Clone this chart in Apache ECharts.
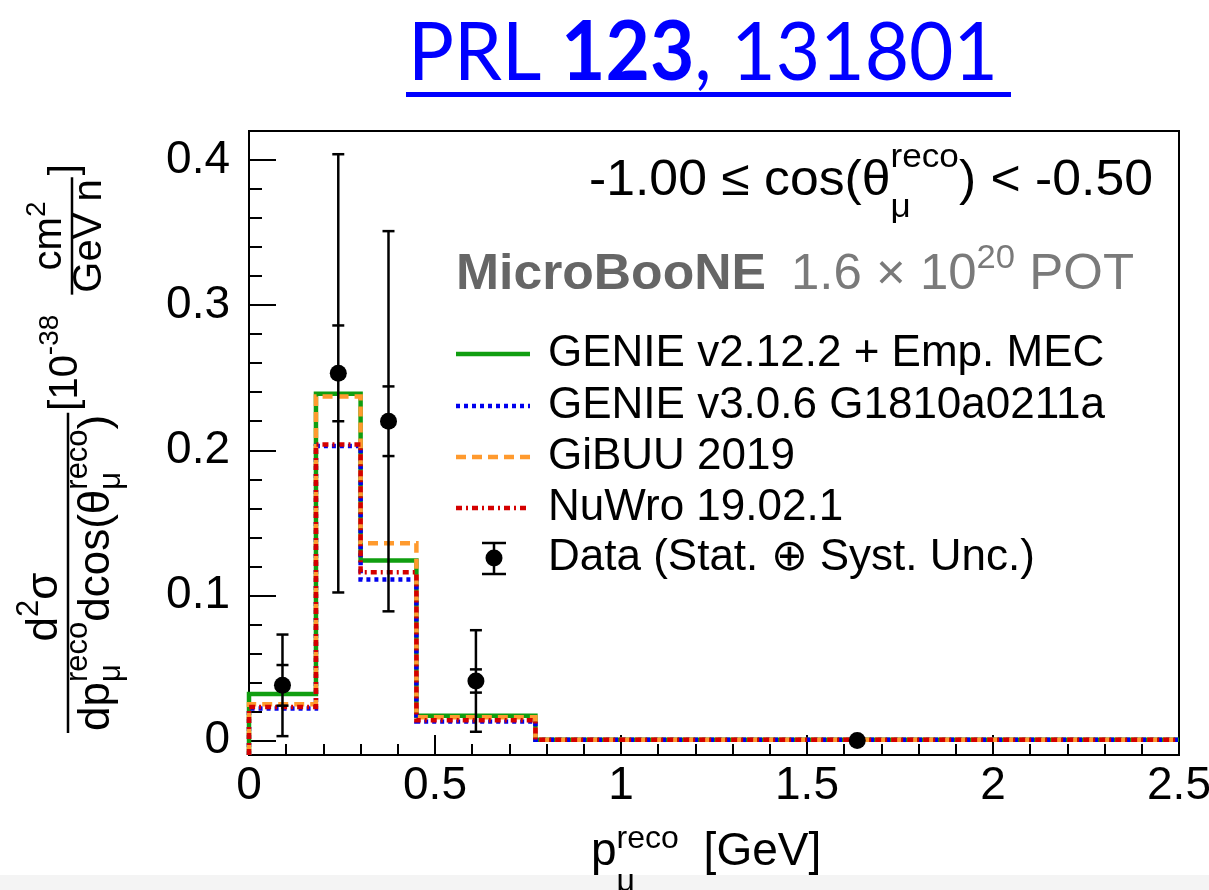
<!DOCTYPE html>
<html><head><meta charset="utf-8">
<script src="https://cdn.jsdelivr.net/npm/echarts@6/dist/echarts.min.js"></script>
<style>html,body{margin:0;padding:0;background:#fff}#c{width:1209px;height:890px}</style>
</head><body><div id="c"></div>
<script>
// ---------------- data ----------------
const binEdges = [0, 0.18, 0.30, 0.45, 0.77, 2.5];
const genieV2 = [0.032, 0.239, 0.124, 0.017, 0.0005];
const genieV3 = [0.022, 0.203, 0.111, 0.013, 0.0005];
const gibuu   = [0.025, 0.237, 0.136, 0.016, 0.0005];
const nuwro   = [0.023, 0.204, 0.116, 0.014, 0.0005];
const dataVals = [0.038, 0.253, 0.220, 0.041, 0.0];
const totErr   = [0.035, 0.151, 0.131, 0.035, 0.001];
const statErr  = [0.014, 0.033, 0.024, 0.008, 0.0005];
const yTicks = [0, 0.1, 0.2, 0.3, 0.4];
const xTicks = [0, 0.5, 1, 1.5, 2, 2.5];
const legendNames = ['GENIE v2.12.2 + Emp. MEC', 'GENIE v3.0.6 G1810a0211a', 'GiBUU 2019', 'NuWro 19.02.1', 'Data (Stat. \u2295 Syst. Unc.)'];
const yMin = -0.01, yMax = 0.42;

// ---------------- helpers ----------------
const FAM = '"Liberation Sans", Arial, Helvetica, sans-serif';
const mctx = document.createElement('canvas').getContext('2d');
function fontStr(s, w, ff) { return (w || 'normal') + ' ' + s + 'px ' + (ff || FAM); }
function tw(t, s, w, ff) { mctx.font = fontStr(s, w, ff); return mctx.measureText(t).width; }
function mk(it, x, base, d) {
  const s = it.s, b = base + (it.dy || 0);
  return { type: 'text', x: x, y: b - 0.3465 * s, z: 20,
    style: { text: it.t, font: fontStr(s, it.w || d.w, it.ff || d.ff), fill: it.fill || d.fill || '#000',
      align: 'left', textAlign: 'left', verticalAlign: 'middle', textVerticalAlign: 'middle' } };
}
function seq(items, x0, base, d) {
  d = d || {};
  let x = x0; const out = [];
  for (const it of items) {
    if (it.stack) {
      let wm = 0;
      for (const s of it.stack) { out.push(mk(s, x, base, d)); wm = Math.max(wm, tw(s.t, s.s, s.w || d.w, s.ff || d.ff)); }
      x += wm;
    } else if (it.gap) { x += it.gap; }
    else { out.push(mk(it, x, base, d)); x += tw(it.t, it.s, it.w || d.w, it.ff || d.ff); }
  }
  return { children: out, width: x - x0 };
}
function fitBlock(items, left, base, target, d) {
  const r = seq(items, 0, base, d);
  const k = target ? target / r.width : 1;
  return { type: 'group', x: left, y: 0, scaleX: k, children: r.children };
}
function stepPts(vals) {
  const pts = [[binEdges[0], yMin]];
  vals.forEach((v, i) => { pts.push([binEdges[i], v]); pts.push([binEdges[i + 1], v]); });
  return pts;
}
const yMinor = [];
for (let i = 1; i < 21; i++) if (i % 5 !== 0) yMinor.push(+(i * 0.02).toFixed(2));
const centers = binEdges.slice(0, -1).map((e, i) => (e + binEdges[i + 1]) / 2);

// ---------------- colours / styles ----------------
const C_GREEN = '#109e10', C_BLUE = '#0000ee', C_ORANGE = '#ff9a2e', C_RED = '#d40000';
const styles = [
  { color: C_GREEN, type: 'solid' },
  { color: C_BLUE, type: [4, 4] },
  { color: C_ORANGE, type: [10, 6] },
  { color: C_RED, type: [6, 4, 2, 4] }
];
const LW = 4.5;

// ---------------- y title (rotated) ----------------
function yTitle() {
  const ch = [];
  const F = 44, f = 31;
  const barStart = 47;
  const st = () => ({ stack: [{ t: 'reco', s: f, dy: -23 }, { t: '\u03bc', s: f, dy: 10 }] });
  const den = seq([{ t: 'dp', s: F }, st(), { t: 'dcos(\u03b8', s: F }, st(), { t: ')', s: F }], barStart + 2, 112);
  const barEnd = barStart + den.width + 4;
  ch.push(...den.children);
  ch.push({ type: 'line', z: 20, shape: { x1: barStart, y1: 68, x2: barEnd, y2: 68 }, style: { stroke: '#000', lineWidth: 2.5 } });
  const numItems = [{ t: 'd', s: F }, { t: '2', s: f, dy: -20 }, { t: '\u03c3', s: F }];
  const nw = seq(numItems, 0, 0).width;
  ch.push(...seq(numItems, 173 - nw / 2, 60).children);
  const br = seq([{ t: '[10', s: 40 }, { t: '-38', s: 28, dy: -20 }], barEnd + 2, 80);
  ch.push(...br.children);
  const fs = barEnd + 2 + br.width + 20;
  const numS = [{ t: 'cm', s: 40 }, { t: '2', s: 28, dy: -17 }];
  const denS = [{ t: 'GeV n', s: 40 }];
  const w1 = seq(numS, 0, 0).width, w2 = seq(denS, 0, 0).width, fw = Math.max(w1, w2) + 4;
  ch.push(...seq(numS, fs + (fw - w1) / 2, 64).children);
  ch.push(...seq(denS, fs + (fw - w2) / 2, 104).children);
  ch.push({ type: 'line', z: 20, shape: { x1: fs, y1: 72, x2: fs + fw, y2: 72 }, style: { stroke: '#000', lineWidth: 2.5 } });
  ch.push(...seq([{ t: ']', s: 40 }], fs + fw + 2, 80).children);
  return { type: 'group', x: 0, y: 780, rotation: Math.PI / 2, children: ch };
}

// ---------------- legend (drawn) ----------------
function legend() {
  const ch = [];
  const rows = [354, 406, 457, 508, 558];
  for (let i = 0; i < 4; i++) {
    ch.push({ type: 'line', z: 20, shape: { x1: 456, y1: rows[i], x2: 530, y2: rows[i] },
      style: { stroke: styles[i].color, lineWidth: LW, lineDash: styles[i].type === 'solid' ? null : styles[i].type } });
  }
  const y = rows[4], cx = 494;
  const ls = { stroke: '#000', lineWidth: 2.5 };
  ch.push({ type: 'line', z: 20, shape: { x1: cx, y1: y - 15, x2: cx, y2: y + 16 }, style: ls });
  ch.push({ type: 'line', z: 20, shape: { x1: cx - 12, y1: y - 15, x2: cx + 12, y2: y - 15 }, style: ls });
  ch.push({ type: 'line', z: 20, shape: { x1: cx - 12, y1: y + 16, x2: cx + 12, y2: y + 16 }, style: ls });
  ch.push({ type: 'circle', z: 20, shape: { cx: cx, cy: y, r: 8.5 }, style: { fill: '#000' } });
  legendNames.forEach((n, i) => { ch.push(...seq([{ t: n, s: 44 }], 548, rows[i] + 15).children); });
  return { type: 'group', children: ch };
}

const graphics = [
  { type: 'rect', z: 0, shape: { x: 0, y: 875, width: 1209, height: 15 }, style: { fill: '#f4f4f4' } },
  // title
  fitBlock([{ t: 'PRL ', s: 82, ff: 'Lato' }, { t: '123', s: 82, w: 'bold', ff: 'Lato' }, { t: ', 131801', s: 82, ff: 'Lato' }], 408, 82, 590, { fill: '#0000ff' }),
  { type: 'rect', z: 20, shape: { x: 406, y: 92, width: 605, height: 5 }, style: { fill: '#0000ff' } },
  // condition
  fitBlock([{ t: '-1.00 \u2264 cos(\u03b8', s: 50 }, { stack: [{ t: 'reco', s: 34, dy: -30 }, { t: '\u03bc', s: 34, dy: 20 }] }, { t: ') < -0.50', s: 50 }], 589, 199, 564),
  // MicroBooNE
  fitBlock([{ t: 'MicroBooNE', s: 50, w: 'bold' }], 456, 293, 310, { fill: '#666666' }),
  fitBlock([{ t: '1.6 \u00d7 10', s: 50 }, { t: '20', s: 34, dy: -23 }, { t: ' POT', s: 50 }], 791, 293, 343, { fill: '#7a7a7a' }),
  // x title
  { type: 'group', children: seq([{ t: 'p', s: 46 }, { stack: [{ t: 'reco', s: 32, dy: -18 }, { t: '\u03bc', s: 32, dy: 25 }] }, { gap: 12 }, { t: ' [GeV]', s: 46 }], 591, 868).children },
  yTitle(),
  legend()
];

// ---------------- chart ----------------
const chart = echarts.init(document.getElementById('c'), null, { renderer: 'canvas' });
const lineSeries = [genieV2, genieV3, gibuu, nuwro].map((vals, i) => ({
  type: 'line', name: legendNames[i], data: stepPts(vals), xAxisIndex: 0, yAxisIndex: 0,
  symbol: 'none', showSymbol: false, clip: true, z: 3 + i,
  lineStyle: { color: styles[i].color, width: LW, type: styles[i].type, join: 'miter', cap: 'butt' }
}));
const errSeries = {
  type: 'custom', name: legendNames[4], xAxisIndex: 0, yAxisIndex: 0, z: 10,
  data: dataVals.map((v, i) => [centers[i], v, totErr[i], statErr[i]]),
  renderItem: (params, api) => {
    const x = api.value(0), y = api.value(1), e = api.value(2), s = api.value(3);
    const c = api.coord([x, y]), t = api.coord([x, y + e]), b = api.coord([x, Math.max(y - e, yMin)]);
    const st = api.coord([x, y + s]), sb = api.coord([x, y - s]);
    const hw = 6, ls = { stroke: '#000', lineWidth: 2.5 };
    const h = (yy) => ({ type: 'line', shape: { x1: c[0] - hw, y1: yy, x2: c[0] + hw, y2: yy }, style: ls });
    return { type: 'group', children: [
      { type: 'line', shape: { x1: c[0], y1: t[1], x2: c[0], y2: b[1] }, style: ls },
      h(t[1]), h(b[1]), h(st[1]), h(sb[1]),
      { type: 'circle', shape: { cx: c[0], cy: c[1], r: 8.5 }, style: { fill: '#000' } }
    ] };
  }
};

chart.setOption({
  animation: false,
  backgroundColor: '#fff',
  grid: { left: 249, top: 131, right: 30, bottom: 135, containLabel: false, outerBoundsMode: 'none',
    show: true, borderColor: '#000', borderWidth: 2, backgroundColor: 'transparent' },
  xAxis: [{
    type: 'value', min: 0, max: 2.5, interval: 0.5, position: 'bottom',
    axisLine: { show: true, onZero: false, lineStyle: { color: '#000', width: 2 } },
    axisTick: { show: true, inside: true, length: 20, lineStyle: { color: '#000', width: 2 } },
    minorTick: { show: true, splitNumber: 5, length: 11, lineStyle: { color: '#000', width: 2 } },
    axisLabel: { show: true, margin: 8, fontSize: 46, fontFamily: FAM, color: '#000',
      formatter: v => { const m = xTicks.find(t => Math.abs(t - v) < 1e-9); return m === undefined ? '' : String(m); } },
    splitLine: { show: false }
  }],
  yAxis: [{
    type: 'value', min: yMin, max: yMax, position: 'left',
    axisLine: { show: true, onZero: false, lineStyle: { color: '#000', width: 2 } },
    axisTick: { show: true, inside: true, length: 27, customValues: yTicks, lineStyle: { color: '#000', width: 2 } },
    axisLabel: { show: true, customValues: yTicks, margin: 19, fontSize: 46, fontFamily: FAM, color: '#000',
      formatter: v => String(+v.toFixed(2)) },
    splitLine: { show: false }
  }, {
    type: 'value', min: yMin, max: yMax, position: 'left', offset: 0,
    axisLine: { show: false },
    axisTick: { show: true, inside: true, length: 13, customValues: yMinor, lineStyle: { color: '#000', width: 2 } },
    axisLabel: { show: false },
    splitLine: { show: false }
  }],
  series: [...lineSeries, errSeries],
  graphic: { elements: graphics }
});
</script>
</body></html>
